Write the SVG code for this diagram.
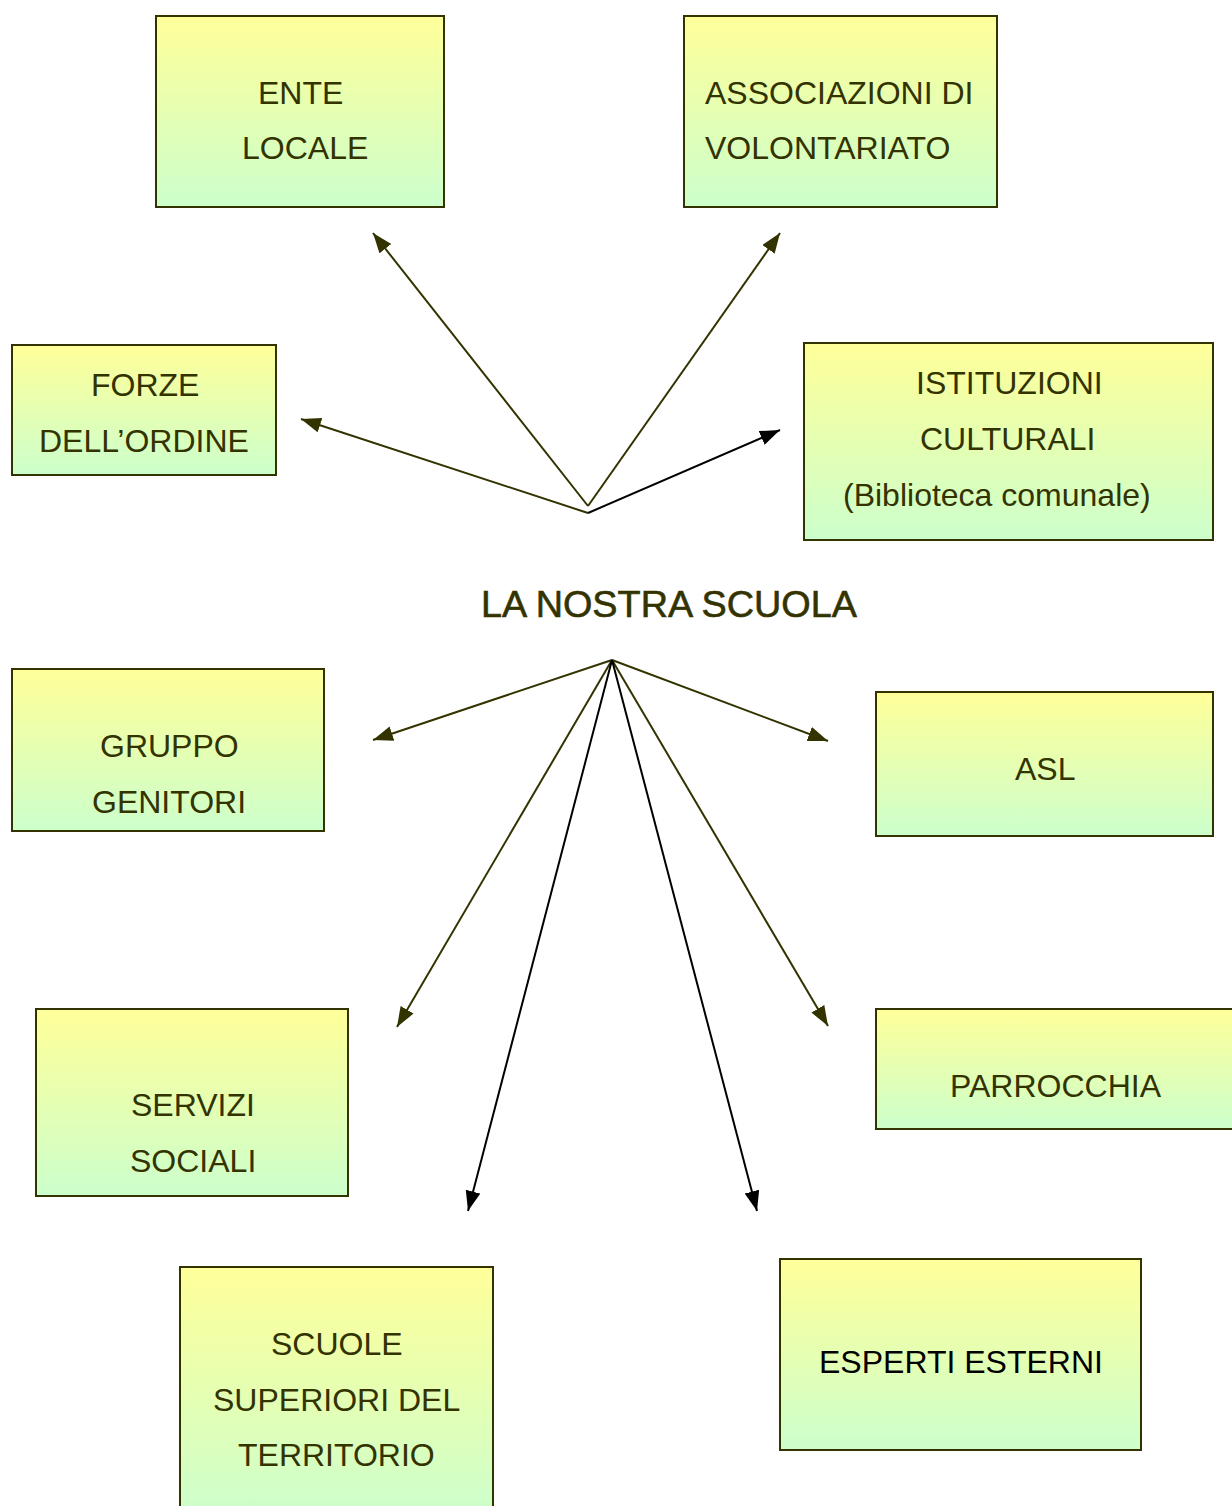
<svg xmlns="http://www.w3.org/2000/svg" width="1232" height="1506" viewBox="0 0 1232 1506">
<defs>
<linearGradient id="g" x1="0" y1="0" x2="0" y2="1">
<stop offset="0" stop-color="#ffff99"/>
<stop offset="1" stop-color="#ccffcc"/>
</linearGradient>
<marker id="ao" markerUnits="userSpaceOnUse" markerWidth="22" markerHeight="16" refX="20" refY="7.5" orient="auto">
<path d="M0,0 L20,7.5 L0,15 z" fill="#333300"/>
</marker>
<marker id="ab" markerUnits="userSpaceOnUse" markerWidth="22" markerHeight="16" refX="20" refY="7.5" orient="auto">
<path d="M0,0 L20,7.5 L0,15 z" fill="#000000"/>
</marker>
<style>
.box{fill:url(#g);stroke:#333300;stroke-width:2}
.t{font-family:"Liberation Sans",Arial,sans-serif;font-size:32px;fill:#333300}
.tb{font-family:"Liberation Sans",Arial,sans-serif;font-size:32px;fill:#000000}
.title{font-family:"Liberation Sans",Arial,sans-serif;font-size:37.8px;fill:#333300;stroke:#333300;stroke-width:0.6}
.co{stroke:#333300;stroke-width:2;fill:none;marker-end:url(#ao)}
.cb{stroke:#000000;stroke-width:2;fill:none;marker-end:url(#ab)}
</style>
</defs>
<rect x="0" y="0" width="1232" height="1506" fill="#ffffff"/>
<g id="connectors">
<line class="co" x1="588" y1="506" x2="373" y2="233"/>
<line class="co" x1="588" y1="506" x2="780" y2="233"/>
<line class="co" x1="588" y1="513" x2="301" y2="419"/>
<line class="cb" x1="588" y1="513" x2="780" y2="430"/>
<line class="co" x1="612" y1="660" x2="373" y2="740"/>
<line class="co" x1="612" y1="660" x2="828" y2="741"/>
<line class="co" x1="612" y1="660" x2="397" y2="1027"/>
<line class="co" x1="612" y1="660" x2="828" y2="1026"/>
<line class="cb" x1="612" y1="660" x2="468" y2="1211"/>
<line class="cb" x1="612" y1="660" x2="757" y2="1211"/>
</g>
<g id="ente-locale">
<rect class="box" x="156" y="16" width="288" height="191"/>
<text class="t" x="258" y="104">ENTE</text>
<text class="t" x="242" y="159">LOCALE</text>
</g>
<g id="associazioni">
<rect class="box" x="684" y="16" width="313" height="191"/>
<text class="t" x="705" y="104">ASSOCIAZIONI DI</text>
<text class="t" x="705" y="159">VOLONTARIATO</text>
</g>
<g id="forze-ordine">
<rect class="box" x="12" y="345" width="264" height="130"/>
<text class="t" x="91" y="396">FORZE</text>
<text class="t" x="39" y="452">DELL’ORDINE</text>
</g>
<g id="istituzioni">
<rect class="box" x="804" y="343" width="409" height="197"/>
<text class="t" x="916" y="394">ISTITUZIONI</text>
<text class="t" x="920" y="450">CULTURALI</text>
<text class="t" x="843" y="506">(Biblioteca comunale)</text>
</g>
<g id="la-nostra-scuola">
<text class="title" x="481" y="617">LA NOSTRA SCUOLA</text>
</g>
<g id="gruppo-genitori">
<rect class="box" x="12" y="669" width="312" height="162"/>
<text class="t" x="100" y="757">GRUPPO</text>
<text class="t" x="92" y="813">GENITORI</text>
</g>
<g id="asl">
<rect class="box" x="876" y="692" width="337" height="144"/>
<text class="t" x="1015" y="780">ASL</text>
</g>
<g id="servizi-sociali">
<rect class="box" x="36" y="1009" width="312" height="187"/>
<text class="t" x="131" y="1116">SERVIZI</text>
<text class="t" x="130" y="1172">SOCIALI</text>
</g>
<g id="parrocchia">
<rect class="box" x="876" y="1009" width="370" height="120"/>
<text class="t" x="950" y="1097">PARROCCHIA</text>
</g>
<g id="scuole-superiori">
<rect class="box" x="180" y="1267" width="313" height="250"/>
<text class="t" x="271" y="1355">SCUOLE</text>
<text class="t" x="213" y="1411">SUPERIORI DEL</text>
<text class="t" x="238" y="1466">TERRITORIO</text>
</g>
<g id="esperti-esterni">
<rect class="box" x="780" y="1259" width="361" height="191"/>
<text class="tb" x="819" y="1373">ESPERTI ESTERNI</text>
</g>
</svg>
